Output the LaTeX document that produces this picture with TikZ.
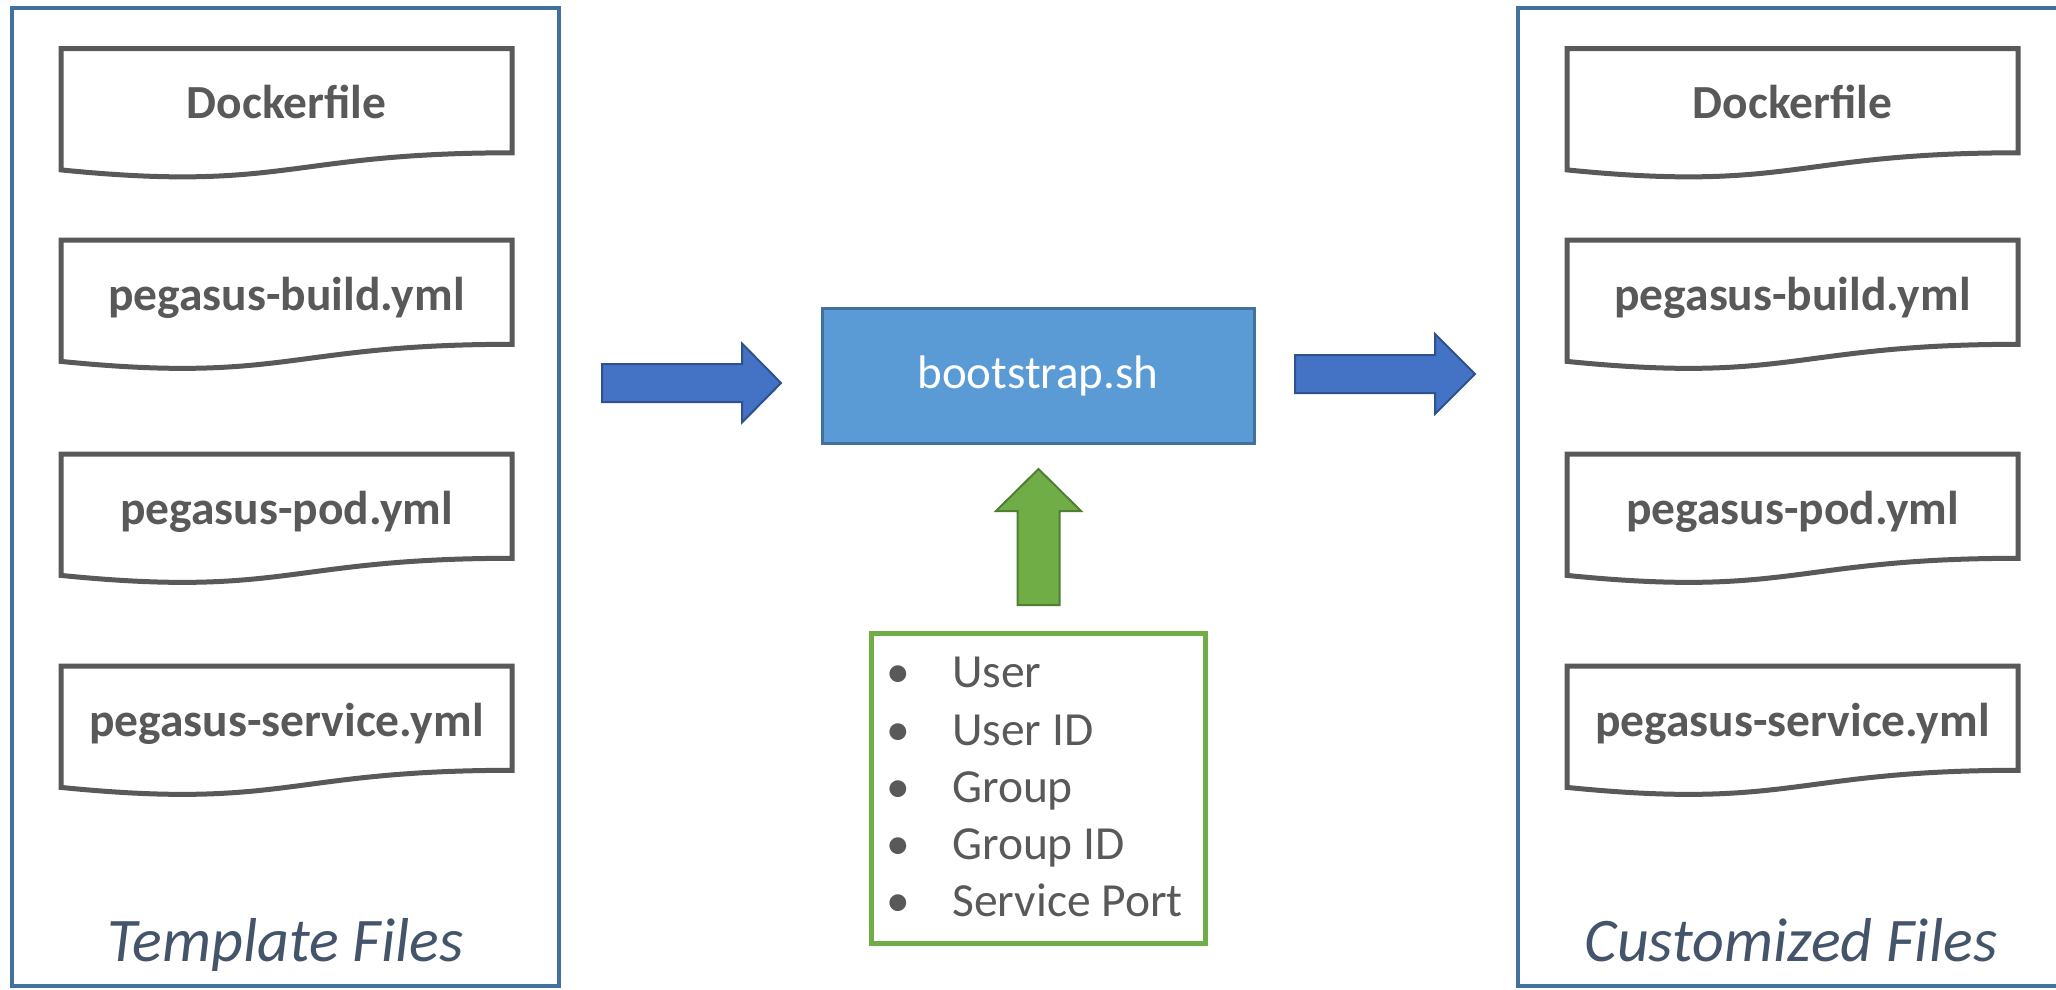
\documentclass[tikz,border=0pt]{standalone}
\usepackage{fontspec}
\setmainfont{Carlito}
\definecolor{frameblue}{HTML}{41719C}
\definecolor{docgray}{HTML}{595959}
\definecolor{titleslate}{HTML}{44546A}
\definecolor{bootfill}{HTML}{5B9BD5}
\definecolor{arrowblue}{HTML}{4472C4}
\definecolor{arrowblueline}{HTML}{2F528F}
\definecolor{paramgreen}{HTML}{70AD47}
\definecolor{paramgreenline}{HTML}{507E32}
\tikzset{
  container/.style={draw=frameblue, line width=4.5pt, rectangle, inner sep=0pt, outer sep=0pt,
                    minimum width=547pt, minimum height=978pt, anchor=north west},
  docline/.style={draw=docgray, line width=5pt, fill=white, line join=miter},
  doclabel/.style={text=docgray, font=\fontsize{47.5}{57}\selectfont\bfseries, inner sep=0pt},
  grouptitle/.style={text=titleslate, font=\fontsize{62}{74}\selectfont\itshape, inner sep=0pt},
  bootbox/.style={draw=frameblue, fill=bootfill, line width=3pt, rectangle, inner sep=0pt,
                  minimum width=432pt, minimum height=135pt, text=white,
                  font=\fontsize{47}{56}\selectfont},
  parambox/.style={draw=paramgreen, line width=5pt, rectangle, inner sep=0pt, outer sep=0pt,
                   minimum width=334pt, minimum height=310pt, anchor=north west},
  listtext/.style={text=docgray, font=\fontsize{47.5}{57}\selectfont, inner sep=0pt},
  bluearrow/.style={draw=arrowblueline, fill=arrowblue, line width=2pt, line join=miter},
  greenarrow/.style={draw=paramgreenline, fill=paramgreen, line width=2pt, line join=miter},
}
% document sheet with a wavy lower edge; #1 name, #2 left, #3 top, #4 label
\newcommand\docsheet[4]{%
  \begin{scope}[shift={(#2,#3)}]
    \draw[docline] (0,0) -- (451,0) -- (451,104.3)
      .. controls (225.5,104.3) and (225.5,144) .. (0,121.4) -- cycle;
    \node[doclabel, anchor=base] (#1) at (225.5,70) {#4};
  \end{scope}}
\begin{document}
\begin{tikzpicture}[x=1pt, y=-1pt]
\useasboundingbox (0,0) rectangle (2056,989);
\fill[white] (0,0) rectangle (2056,989);

% left column: template files
\node[container] (tmpl) at (12,8) {};
\docsheet{tdock}{61}{48.5}{Dockerfile}
\docsheet{tbuild}{61}{240}{pegasus-build.yml}
\docsheet{tpod}{61}{454}{pegasus-pod.yml}
\docsheet{tsvc}{61}{666}{pegasus-service.yml}
\node[grouptitle, anchor=base] (tmpltitle) at (285.5,961) {Template Files};

% right column: customized files
\node[container] (cust) at (1518,8) {};
\docsheet{cdock}{1567}{48.5}{Dockerfile}
\docsheet{cbuild}{1567}{240}{pegasus-build.yml}
\docsheet{cpod}{1567}{454}{pegasus-pod.yml}
\docsheet{csvc}{1567}{666}{pegasus-service.yml}
\node[grouptitle, anchor=base] (custtitle) at (1791,961) {Customized Files};

% script in the middle
\node[bootbox] (boot) at (1038,375.5) {bootstrap.sh};

% parameters fed to the script
\node[parambox] (params) at (871,633) {};
\foreach \name/\txt/\yb in {puser/User/687, puid/User ID/745, pgroup/Group/802,
                            pgid/Group ID/859, pport/Service Port/916} {
  \node[listtext, anchor=base] (\name b) at (898,\yb) {•};
  \node[listtext, anchor=base west] (\name) at (952,\yb) {\txt};
}

% block arrows
\coordinate (inarrow) at (602,383);
\coordinate (outarrow) at (1295,374);
\coordinate (uparrow) at (1038.5,605);
\draw[bluearrow, shift={(inarrow)}] (0,-19) -- (140,-19) -- (140,-39.5) -- (179,0)
  -- (140,39.5) -- (140,19) -- (0,19) -- cycle;
\draw[bluearrow, shift={(outarrow)}] (0,-19) -- (140,-19) -- (140,-40) -- (180,0)
  -- (140,40) -- (140,19) -- (0,19) -- cycle;
\draw[greenarrow, shift={(uparrow)}] (-21,0) -- (-21,-94) -- (-42.5,-94) -- (0,-136)
  -- (42.5,-94) -- (21,-94) -- (21,0) -- cycle;
\end{tikzpicture}
\end{document}
